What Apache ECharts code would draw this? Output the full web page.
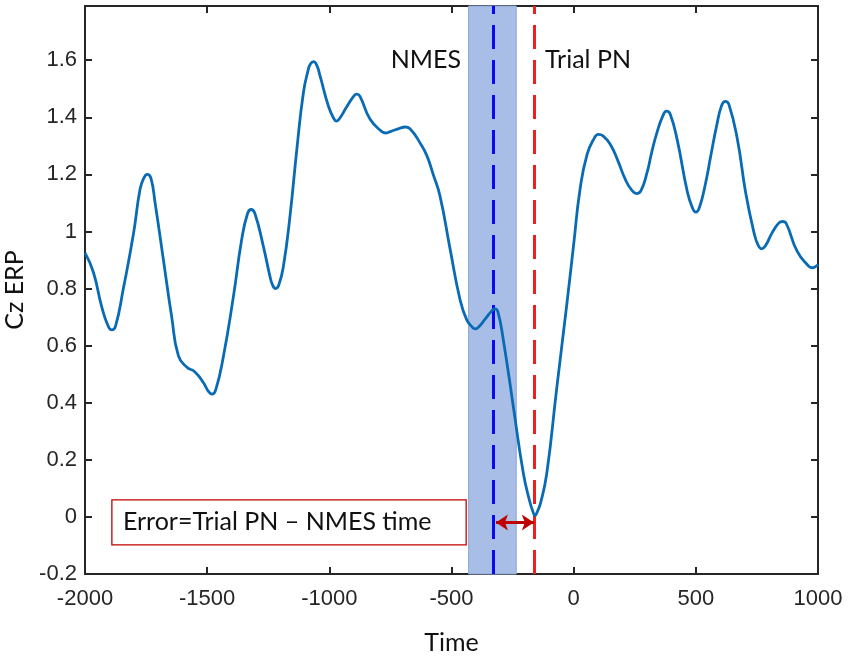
<!DOCTYPE html>
<html>
<head>
<meta charset="utf-8">
<script src="https://cdn.jsdelivr.net/npm/echarts@6/dist/echarts.min.js"></script>
<style>
  html, body { margin: 0; padding: 0; background: #fff; }
  #main { width: 848px; height: 660px; }
</style>
</head>
<body>
<div id="main"></div>
<script>
// Cz ERP curve (time in ms)
var times = [-2000, -1966, -1932, -1905, -1890, -1875, -1843, -1802, -1775, -1760,
  -1745, -1730, -1713, -1679, -1645, -1618, -1584, -1550, -1515, -1495,
  -1480, -1465, -1434, -1393, -1359, -1335, -1320, -1305, -1270, -1243,
  -1232, -1220, -1207, -1188, -1161, -1133, -1106, -1086, -1078, -1065,
  -1052, -1038, -1004, -982, -970, -958, -930, -900, -888, -875,
  -833, -785, -768, -750, -710, -690, -670, -625, -600, -575,
  -547, -506, -465, -438, -415, -404, -392, -365, -335, -322,
  -310, -288, -247, -206, -180, -168, -158, -148, -135, -110,
  -70, -29, 0, 26, 55, 85, 101, 120, 150, 180,
  210, 235, 258, 275, 300, 320, 342, 365, 380, 395,
  424, 465, 485, 500, 515, 540, 560, 585, 605, 620,
  635, 670, 704, 738, 755, 770, 785, 812, 840, 855,
  870, 915, 960, 975, 990, 1000];
var erp = [0.925, 0.858, 0.738, 0.668, 0.655, 0.668, 0.800, 0.990, 1.147, 1.186,
  1.200, 1.186, 1.100, 0.900, 0.700, 0.565, 0.525, 0.508, 0.470, 0.440,
  0.430, 0.445, 0.560, 0.770, 0.970, 1.062, 1.077, 1.064, 0.948, 0.843,
  0.812, 0.800, 0.812, 0.878, 1.054, 1.288, 1.487, 1.568, 1.586, 1.595,
  1.584, 1.545, 1.440, 1.396, 1.387, 1.396, 1.435, 1.474, 1.481, 1.474,
  1.393, 1.350, 1.345, 1.350, 1.362, 1.366, 1.360, 1.305, 1.264, 1.200,
  1.124, 0.940, 0.761, 0.691, 0.665, 0.659, 0.663, 0.690, 0.722, 0.729,
  0.718, 0.621, 0.387, 0.153, 0.055, 0.022, 0.005, 0.020, 0.050, 0.153,
  0.446, 0.738, 0.955, 1.147, 1.270, 1.328, 1.340, 1.335, 1.305, 1.250,
  1.185, 1.148, 1.133, 1.142, 1.205, 1.280, 1.350, 1.405, 1.422, 1.412,
  1.320, 1.140, 1.085, 1.068, 1.085, 1.170, 1.260, 1.370, 1.440, 1.456,
  1.446, 1.323, 1.136, 0.996, 0.952, 0.939, 0.950, 0.995, 1.030, 1.035,
  1.028, 0.930, 0.880, 0.873, 0.877, 0.884];

var yTicks = [-0.2, 0, 0.2, 0.4, 0.6, 0.8, 1, 1.2, 1.4, 1.6];
var nmesWindow = [-430, -235];   // shaded NMES window
var nmesTime = -330;             // blue dashed line
var trialPN = -160;              // red dashed line
var arrowY = -0.02;
var arrowFrom = -318, arrowTo = -163;
var errorBox = [-1890, 0.06, -440, -0.098];  // x0, y0, x1, y1
var nmesLabel = [-605, 1.6];
var trialLabel = [-117, 1.6];

var seriesData = times.map(function (t, i) { return [t, erp[i]]; });

var chart = echarts.init(document.getElementById('main'));

var axisFont = { fontFamily: 'Liberation Sans, Arial', fontSize: 22, color: '#262626' };
var calFont = 'Lato, Carlito, Calibri, sans-serif';

var xCommon = {
  type: 'value', min: -2000, max: 1000, interval: 500,
  axisLine: { show: true, onZero: false, lineStyle: { color: '#262626', width: 2 } },
  axisTick: { inside: true, length: 7, lineStyle: { color: '#262626', width: 2 } },
  splitLine: { show: false }
};
var yCommon = {
  type: 'value', min: -0.2, max: 1.79,
  axisLine: { show: true, onZero: false, lineStyle: { color: '#262626', width: 2 } },
  axisTick: { inside: true, length: 7, customValues: yTicks, lineStyle: { color: '#262626', width: 2 } },
  splitLine: { show: false }
};

chart.setOption({
  animation: false,
  grid: { left: 85, right: 30, top: 6, bottom: 86, containLabel: false, outerBoundsMode: 'none' },
  xAxis: [
    Object.assign({}, xCommon, {
      position: 'bottom',
      name: 'Time', nameLocation: 'middle', nameGap: 56,
      nameTextStyle: { fontFamily: calFont, fontSize: 25, color: '#111', verticalAlign: 'top' },
      axisLabel: Object.assign({ margin: 14, formatter: function (v) { return String(v); } }, axisFont)
    }),
    Object.assign({}, xCommon, { position: 'top', axisLabel: { show: false } })
  ],
  yAxis: [
    Object.assign({}, yCommon, {
      position: 'left',
      name: 'Cz ERP', nameLocation: 'middle', nameGap: 58,
      nameTextStyle: { fontFamily: calFont, fontSize: 25, color: '#111' },
      axisLabel: Object.assign({ margin: 8, customValues: yTicks, formatter: function (v) { return String(v); } }, axisFont)
    }),
    Object.assign({}, yCommon, { position: 'right', axisLabel: { show: false } })
  ],
  series: [
    {
      type: 'line',
      data: [],
      markArea: {
        silent: true,
        itemStyle: { color: '#a9bee6', borderColor: '#8ea6d2', borderWidth: 1 },
        data: [[{ xAxis: nmesWindow[0] }, { xAxis: nmesWindow[1] }]]
      },
      markLine: {
        silent: true, symbol: 'none',
        label: { show: false },
        data: [
          { xAxis: nmesTime, lineStyle: { color: '#0a0af0', width: 3, type: [24, 11] } },
          { xAxis: trialPN, lineStyle: { color: '#f01e1e', width: 3, type: [24, 11] } }
        ]
      }
    },
    {
      type: 'line',
      data: seriesData,
      smooth: 0.5,
      showSymbol: false,
      z: 5,
      lineStyle: { color: '#0a6bb5', width: 2.8 }
    },
    {
      type: 'line',
      data: [],
      z: 6,
      markLine: {
        silent: true,
        symbol: ['arrow', 'arrow'], symbolSize: [12, 12],
        label: { show: false },
        lineStyle: { color: '#c00000', width: 3, type: 'solid' },
        data: [[{ coord: [arrowFrom, arrowY] }, { coord: [arrowTo, arrowY] }]]
      }
    }
  ]
});

function px(p) { return chart.convertToPixel({ gridIndex: 0 }, p); }

var b0 = px([errorBox[0], errorBox[1]]);
var b1 = px([errorBox[2], errorBox[3]]);
var nl = px(nmesLabel);
var tl = px(trialLabel);

chart.setOption({
  graphic: [
    {
      type: 'rect', z: 10,
      shape: { x: b0[0], y: b0[1], width: b1[0] - b0[0], height: b1[1] - b0[1] },
      style: { fill: '#fff', stroke: '#c00000', lineWidth: 1.3 }
    },
    {
      type: 'text', z: 11,
      x: b0[0] + 11, y: (b0[1] + b1[1]) / 2,
      style: { text: 'Error=Trial PN \u2013 NMES time', font: '25px ' + calFont, fill: '#111', verticalAlign: 'middle' }
    },
    {
      type: 'text', z: 11, x: nl[0], y: nl[1],
      style: { text: 'NMES', font: '25px ' + calFont, fill: '#111', align: 'center', verticalAlign: 'middle' }
    },
    {
      type: 'text', z: 11, x: tl[0], y: tl[1],
      style: { text: 'Trial PN', font: '25px ' + calFont, fill: '#111', align: 'left', verticalAlign: 'middle' }
    }
  ]
});
</script>
</body>
</html>
